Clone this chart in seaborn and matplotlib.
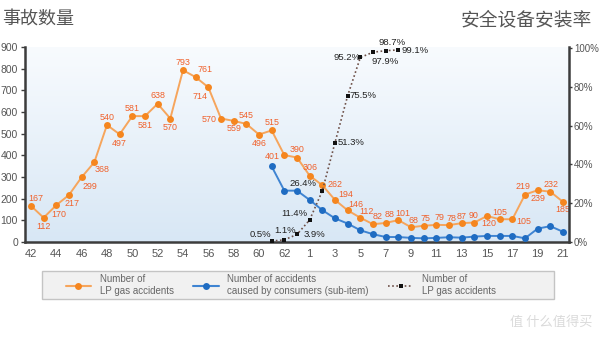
import numpy as np
import pandas as pd
import matplotlib
matplotlib.use("Agg")
import matplotlib.pyplot as plt
import seaborn as sns
from matplotlib.lines import Line2D
from matplotlib.patches import Rectangle
from matplotlib.colors import LinearSegmentedColormap

# ---------------- data ----------------
years = [str(y) for y in range(42, 64)] + [str(y) for y in range(1, 22)]
lp_accidents = [167, 112, 170, 217, 299, 368, 540, 497, 581, 581, 638, 570,
                793, 761, 714, 570, 559, 545, 496, 515, 401, 390,
                306, 262, 194, 146, 112, 82, 88, 101, 68, 75, 79, 78, 87, 90,
                120, 105, 105, 219, 239, 232, 185]
consumer_years = ["61", "62", "63"] + [str(y) for y in range(1, 22)]
consumer_accidents = [349, 237, 237, 194, 147, 109, 85, 54, 36, 23, 23, 19, 17,
                      19, 22, 20, 25, 28, 28, 28, 17, 62, 73, 47]
safety_years = ["61", "62", "63", "1", "2", "3", "4", "5", "6", "7", "8"]
safety_rate = [0.5, 1.1, 3.9, 11.4, 26.4, 51.3, 75.5, 95.2, 97.9, 98.7, 99.1]

legend_labels = ["Number of\nLP gas accidents",
                 "Number of accidents\ncaused by consumers (sub-item)",
                 "Number of\nLP gas accidents"]

# label offsets in pixels (dx, dy with y downward) -- styling only
lp_offsets = [(5, -7), (0, 9), (3, 9), (3, 9), (8, 9), (8, 7), (0, -7), (0, 9),
              (0, -8), (0, 9), (0, -8), (0, 9), (0, -8), (9, -8), (-8, 9),
              (-12, 1), (0, 8), (0, -8), (0, 9), (0, -8), (-12, 1), (0, -8),
              (0, -8), (13, -1), (11, -5), (8, -6), (6, -6), (5, -8), (4, -8),
              (4, -7), (2, -7), (2, -7), (3, -7), (2, -7), (0, -7), (-1, -7),
              (2, 8), (0, -7), (11, 2), (-2, -8), (0, 8), (1, -7), (0, 8)]
rate_offsets = [(-11, -7), (1, -9), (17, 0), (-15, -6), (-19, -7), (16, 0),
                (15, 0), (-13, 0), (12, 9), (6, -8), (17, 1)]

# ---------------- style ----------------
sns.set_theme(style="white")
plt.rcParams["font.family"] = ["Liberation Sans", "DejaVu Sans"]

pos = {y: i for i, y in enumerate(years)}
df_lp = pd.DataFrame({"x": [pos[y] for y in years], "v": lp_accidents})
df_cons = pd.DataFrame({"x": [pos[y] for y in consumer_years], "v": consumer_accidents})
df_rate = pd.DataFrame({"x": [pos[y] for y in safety_years], "v": safety_rate})

fig = plt.figure(figsize=(6.0, 3.41), dpi=100)
ax = fig.add_axes([25 / 600, 1 - 242 / 341, 544 / 600, 195 / 341])
ax2 = ax.twinx()

xlim = (-0.47, len(years) - 1 + 0.47)

# gradient background
cmap = LinearSegmentedColormap.from_list("bg", ["#f8fbfe", "#d8e7f5"])
ax.imshow(np.linspace(0, 1, 256).reshape(-1, 1), cmap=cmap, aspect="auto",
          extent=[xlim[0], xlim[1], 0, 900], origin="upper", zorder=0)

ORANGE_LINE = "#f6a55c"
ORANGE_MARK = "#f5861f"
ORANGE_TEXT = "#f0602a"
BLUE_LINE = "#3f84d2"
BLUE_MARK = "#1f6cc2"

sns.lineplot(data=df_lp, x="x", y="v", ax=ax, color=ORANGE_LINE, linewidth=1.4,
             marker="o", markersize=5, markerfacecolor=ORANGE_MARK,
             markeredgecolor=ORANGE_MARK, markeredgewidth=0, zorder=3)
sns.lineplot(data=df_cons, x="x", y="v", ax=ax, color=BLUE_LINE, linewidth=1.4,
             marker="o", markersize=5, markerfacecolor=BLUE_MARK,
             markeredgecolor=BLUE_MARK, markeredgewidth=0, zorder=3)
sns.lineplot(data=df_rate, x="x", y="v", ax=ax2, color="#6e5048", linewidth=1.2,
             linestyle=(0, (1, 1.5)), marker="s", markersize=3.5,
             markerfacecolor="#111111", markeredgecolor="#111111",
             markeredgewidth=0, zorder=4)

for (x, v), (dx, dy) in zip(zip(df_lp["x"], df_lp["v"]), lp_offsets):
    ax.annotate(str(v), (x, v), xytext=(dx * 0.72, -dy * 0.72),
                textcoords="offset points", ha="center", va="center",
                fontsize=6.4, color=ORANGE_TEXT, zorder=5)
for (x, v), (dx, dy) in zip(zip(df_rate["x"], df_rate["v"]), rate_offsets):
    ax2.annotate(f"{v}%", (x, v), xytext=(dx * 0.72, -dy * 0.72),
                 textcoords="offset points", ha="center", va="center",
                 fontsize=6.8, color="#222222", zorder=5)

ax.set_xlim(*xlim)
ax.set_ylim(0, 900)
ax2.set_ylim(0, 100.6)
ax.set_yticks(range(0, 901, 100))
ax2.set_yticks(range(0, 101, 20))
ax2.set_yticklabels([f"{t}%" for t in range(0, 101, 20)])
ax.set_xticks(range(0, len(years), 2))
ax.set_xticklabels(years[::2])
ax.set_xlabel("")
ax.set_ylabel("")
ax2.set_ylabel("")

SPINE = "#3c3c3c"
TICK = "#555555"
ax.spines["top"].set_visible(False)
ax2.spines["top"].set_visible(False)
ax.spines["right"].set_visible(False)
ax2.spines["left"].set_visible(False)
ax2.spines["bottom"].set_visible(False)
for sp in [ax.spines["left"], ax.spines["bottom"], ax2.spines["right"]]:
    sp.set_color(SPINE)
    sp.set_linewidth(1.8)

ax.tick_params(axis="y", left=True, length=3, width=1, color=SPINE, pad=2,
               labelsize=7.5, labelcolor=TICK)
ax.tick_params(axis="x", bottom=False, length=0, pad=5, labelsize=8,
               labelcolor=TICK)
ax2.tick_params(axis="y", right=True, length=2, width=1, color=SPINE, pad=1.5,
                labelsize=7, labelcolor=TICK)

# titles
fig.text(0.004, 1 - 20 / 341, "事故数量", ha="left", va="center", fontsize=13,
         color="#555555", family=["Noto Sans CJK SC", "DejaVu Sans"])
fig.text(592 / 600, 1 - 20 / 341, "安全设备安装率", ha="right", va="center",
         fontsize=13.5, color="#555555", family=["Noto Sans CJK SC", "DejaVu Sans"])

# legend box
fig.add_artist(Rectangle((42 / 600, 1 - 299 / 341), 512 / 600, 28 / 341,
                         transform=fig.transFigure, facecolor="#f1f1f1",
                         edgecolor="#c4c4c4", linewidth=1, zorder=0))
handles = [
    Line2D([], [], color=ORANGE_LINE, lw=1.5, marker="o", ms=5,
           mfc=ORANGE_MARK, mec=ORANGE_MARK, mew=0),
    Line2D([], [], color=BLUE_LINE, lw=1.5, marker="o", ms=5,
           mfc=BLUE_MARK, mec=BLUE_MARK, mew=0),
    Line2D([], [], color="#6e5048", lw=1.2, ls=(0, (1, 1.5)), marker="s", ms=3.5,
           mfc="#111111", mec="#111111", mew=0),
]
leg = fig.legend(handles, legend_labels, ncol=3, loc="center left",
                 bbox_to_anchor=(57 / 600, 1 - 285 / 341), frameon=False,
                 fontsize=7, handlelength=2.6, handletextpad=0.9,
                 columnspacing=2.0, labelcolor="#666666")

# watermark
fig.text(0.988, 1 - 322 / 341, "值 什么值得买", ha="right", va="center",
         fontsize=9.5, color="#dadada", family=["Noto Sans CJK SC", "DejaVu Sans"])

fig.savefig("out.png", dpi=100)
